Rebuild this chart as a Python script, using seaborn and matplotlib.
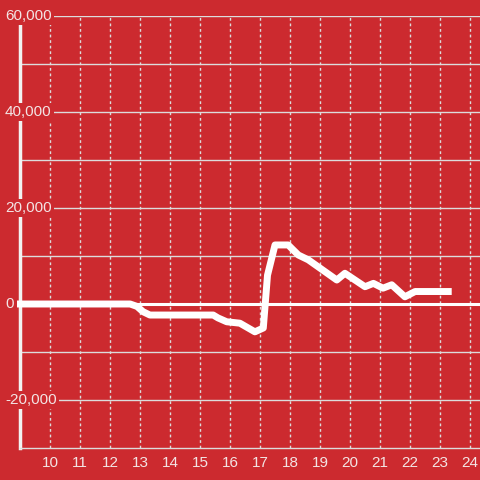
import pandas as pd
import matplotlib.pyplot as plt
import seaborn as sns

# hour of day vs running balance
hours = [8.9, 12.67, 12.9, 13.1, 13.33, 15.44, 15.6, 15.89, 16.33, 16.83, 17.11,
         17.25, 17.5, 17.94, 18.1, 18.28, 18.61, 19.56, 19.83, 20.5, 20.78,
         21.1, 21.39, 21.83, 22.17, 23.39]
values = [0, 0, -500, -1600, -2300, -2300, -2900, -3700, -4000, -5800, -5000,
          6000, 12300, 12300, 11300, 10200, 9200, 5000, 6400, 3600, 4300,
          3300, 4000, 1500, 2600, 2600]
x_ticks = list(range(10, 25))
y_ticks = [-20000, 0, 20000, 40000, 60000]
y_grid = list(range(-20000, 60001, 10000))

bg = "#cc2a2f"
light = "#f3e4e4"
grid_c = "#dcdcdc"

df = pd.DataFrame({"hour": hours, "value": values})

sns.set_style("white")
plt.rcParams["font.family"] = ["Liberation Sans", "DejaVu Sans"]

fig = plt.figure(figsize=(4.8, 4.8), dpi=100, facecolor=bg)
ax = fig.add_axes([20 / 480, 32 / 480, 460 / 480, 432 / 480], facecolor=bg)

# grid
for y in y_grid:
    ax.axhline(y, color=grid_c, lw=1, zorder=1)
for x in x_ticks:
    ax.axvline(x, color=grid_c, lw=1, ls=(0, (2, 2)), zorder=1)
ax.axhline(0, color="white", lw=2.2, zorder=1.5)

sns.lineplot(data=df, x="hour", y="value", ax=ax, color="white", lw=5,
             solid_joinstyle="round", solid_capstyle="butt", zorder=3,
             clip_on=False)

ax.set_xlim(9, 24.333)
ax.set_ylim(-30000, 60000)

for side in ["top", "right"]:
    ax.spines[side].set_visible(False)
ax.spines["left"].set_color("#f2f2f2")
ax.spines["left"].set_linewidth(2.5)
ax.spines["bottom"].set_color(grid_c)
ax.spines["bottom"].set_linewidth(1)

ax.set_xticks(x_ticks)
ax.set_xticklabels([str(t) for t in x_ticks])
ax.tick_params(axis="x", length=0, pad=6, colors=light, labelsize=11)
ax.set_yticks([])
ax.set_xlabel("")
ax.set_ylabel("")

# y labels sit over the left spine with a red box behind them
for y in y_ticks:
    ax.text(-15 / 460, y, f"{y:,}", transform=ax.get_yaxis_transform(),
            ha="left", va="center", color=light, fontsize=11, zorder=5,
            clip_on=False,
            bbox=dict(facecolor=bg, edgecolor="none", pad=1.5))

fig.savefig("out.png", dpi=100, facecolor=bg)
